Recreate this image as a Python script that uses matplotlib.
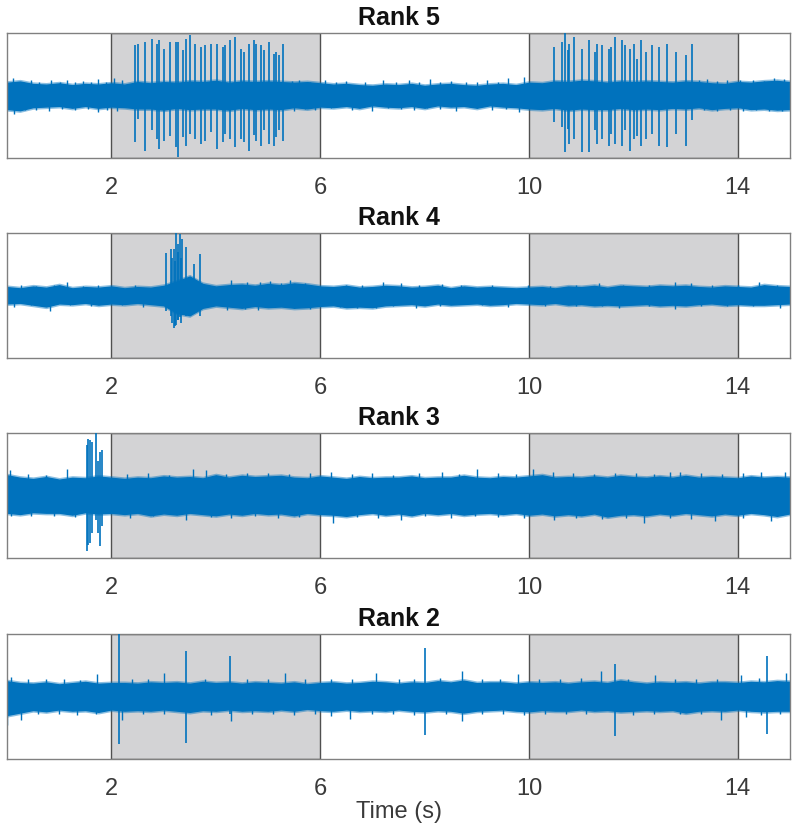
import matplotlib
matplotlib.use("Agg")
import matplotlib.pyplot as plt
import numpy as np

plt.rcParams['font.family'] = ['Liberation Sans', 'DejaVu Sans']

TRACE = '#0072BD'

# envelope of the noise band, sampled every 0.25 s from 0 to 15 s (axis units, ylim = -1..1)
t_env = np.arange(61) * 0.25

rank5_hi = [0.20, 0.22, 0.18, 0.17, 0.19, 0.16, 0.18, 0.17, 0.19, 0.17,
            0.21, 0.19, 0.21, 0.20, 0.22, 0.21, 0.23, 0.20, 0.22, 0.21,
            0.22, 0.21, 0.20, 0.21, 0.19, 0.17, 0.18, 0.16, 0.15, 0.17,
            0.16, 0.18, 0.15, 0.17, 0.18, 0.16, 0.15, 0.17, 0.18, 0.16,
            0.20, 0.19, 0.22, 0.21, 0.23, 0.22, 0.20, 0.22, 0.21, 0.22,
            0.21, 0.20, 0.22, 0.21, 0.19, 0.18, 0.21, 0.20, 0.22, 0.23, 0.21]
rank5_lo = [-0.22, -0.24, -0.19, -0.18, -0.17, -0.20, -0.17, -0.20, -0.18, -0.19,
            -0.21, -0.21, -0.23, -0.20, -0.22, -0.21, -0.21, -0.23, -0.20, -0.22,
            -0.21, -0.22, -0.19, -0.21, -0.18, -0.19, -0.17, -0.20, -0.16, -0.18,
            -0.19, -0.17, -0.20, -0.16, -0.18, -0.17, -0.20, -0.16, -0.18, -0.19,
            -0.21, -0.22, -0.20, -0.23, -0.21, -0.22, -0.22, -0.20, -0.22, -0.21,
            -0.22, -0.20, -0.21, -0.19, -0.22, -0.20, -0.19, -0.22, -0.21, -0.23, -0.22]

rank4_hi = [0.13, 0.11, 0.14, 0.12, 0.16, 0.11, 0.13, 0.12, 0.14, 0.11,
            0.13, 0.12, 0.15, 0.22, 0.30, 0.18, 0.14, 0.16, 0.17, 0.15,
            0.18, 0.16, 0.19, 0.17, 0.14, 0.13, 0.15, 0.12, 0.13, 0.15,
            0.14, 0.12, 0.13, 0.15, 0.11, 0.14, 0.12, 0.13, 0.12, 0.11,
            0.12, 0.13, 0.11, 0.14, 0.13, 0.15, 0.12, 0.15, 0.14, 0.13,
            0.15, 0.14, 0.15, 0.13, 0.12, 0.14, 0.13, 0.12, 0.16, 0.14, 0.13]
rank4_lo = [-0.13, -0.12, -0.15, -0.18, -0.13, -0.14, -0.12, -0.15, -0.13, -0.14,
            -0.12, -0.14, -0.16, -0.28, -0.32, -0.20, -0.16, -0.18, -0.20, -0.17,
            -0.19, -0.18, -0.20, -0.19, -0.17, -0.16, -0.19, -0.18, -0.19, -0.16,
            -0.15, -0.14, -0.16, -0.13, -0.15, -0.14, -0.13, -0.15, -0.14, -0.12,
            -0.13, -0.14, -0.12, -0.15, -0.14, -0.16, -0.15, -0.16, -0.15, -0.14,
            -0.16, -0.15, -0.16, -0.14, -0.13, -0.15, -0.14, -0.15, -0.15, -0.14, -0.13]

rank3_hi = [0.32, 0.28, 0.26, 0.29, 0.25, 0.28, 0.27, 0.30, 0.28, 0.26,
            0.28, 0.27, 0.30, 0.28, 0.29, 0.27, 0.32, 0.28, 0.31, 0.29,
            0.30, 0.31, 0.28, 0.27, 0.30, 0.28, 0.26, 0.29, 0.27, 0.28,
            0.28, 0.30, 0.27, 0.28, 0.28, 0.31, 0.28, 0.27, 0.29, 0.28,
            0.30, 0.32, 0.28, 0.29, 0.28, 0.30, 0.28, 0.31, 0.29, 0.28,
            0.30, 0.28, 0.31, 0.28, 0.29, 0.28, 0.27, 0.30, 0.28, 0.29, 0.28]
rank3_lo = [-0.28, -0.30, -0.27, -0.28, -0.28, -0.31, -0.27, -0.29, -0.28, -0.30,
            -0.28, -0.32, -0.29, -0.31, -0.28, -0.30, -0.32, -0.29, -0.31, -0.28,
            -0.30, -0.29, -0.32, -0.28, -0.30, -0.31, -0.33, -0.30, -0.28, -0.31,
            -0.29, -0.32, -0.28, -0.30, -0.28, -0.31, -0.29, -0.28, -0.30, -0.28,
            -0.31, -0.29, -0.32, -0.30, -0.32, -0.29, -0.34, -0.31, -0.30, -0.32,
            -0.29, -0.31, -0.28, -0.30, -0.32, -0.29, -0.31, -0.28, -0.30, -0.33, -0.29]

rank2_hi = [0.24, 0.21, 0.20, 0.22, 0.19, 0.21, 0.23, 0.20, 0.21, 0.21,
            0.20, 0.22, 0.21, 0.22, 0.20, 0.23, 0.21, 0.22, 0.20, 0.22,
            0.21, 0.20, 0.22, 0.19, 0.21, 0.22, 0.20, 0.21, 0.23, 0.22,
            0.20, 0.22, 0.21, 0.24, 0.22, 0.25, 0.21, 0.22, 0.22, 0.20,
            0.22, 0.21, 0.22, 0.20, 0.22, 0.23, 0.21, 0.25, 0.22, 0.20,
            0.22, 0.21, 0.22, 0.20, 0.22, 0.22, 0.21, 0.23, 0.22, 0.24, 0.23]
rank2_lo = [-0.30, -0.26, -0.22, -0.24, -0.21, -0.23, -0.22, -0.25, -0.21, -0.23,
            -0.22, -0.23, -0.21, -0.23, -0.25, -0.22, -0.23, -0.21, -0.23, -0.22,
            -0.23, -0.21, -0.23, -0.20, -0.22, -0.23, -0.21, -0.23, -0.22, -0.23,
            -0.21, -0.23, -0.24, -0.22, -0.23, -0.26, -0.23, -0.22, -0.21, -0.23,
            -0.24, -0.22, -0.23, -0.23, -0.21, -0.23, -0.22, -0.24, -0.23, -0.22,
            -0.23, -0.22, -0.26, -0.23, -0.22, -0.23, -0.21, -0.23, -0.24, -0.23, -0.23]

# noise peaks sticking out of the band: time (s), value
rank5_up_t = [0.12, 0.30, 0.46, 0.62, 0.85, 1.02, 1.15, 1.30, 1.45, 1.60, 1.75, 1.90,
              2.04, 2.20, 5.45, 5.60, 5.80, 6.10, 6.30, 6.50, 6.85, 7.20, 7.45, 7.70,
              7.90, 8.10, 8.30, 8.50, 8.80, 9.00, 9.20, 9.40, 9.60, 9.91, 13.25, 13.40,
              13.60, 13.80, 14.05, 14.30, 14.50, 14.70, 14.88]
rank5_up_v = [0.28, 0.22, 0.24, 0.21, 0.24, 0.22, 0.25, 0.21, 0.23, 0.22, 0.26, 0.22,
              0.27, 0.25, 0.23, 0.25, 0.21, 0.24, 0.21, 0.23, 0.21, 0.25, 0.21, 0.24,
              0.21, 0.26, 0.21, 0.23, 0.22, 0.21, 0.25, 0.22, 0.27, 0.29, 0.24, 0.26,
              0.23, 0.24, 0.25, 0.25, 0.23, 0.27, 0.26]
rank5_dn_t = [0.14, 0.35, 0.55, 0.80, 1.05, 1.30, 1.55, 1.74, 1.92, 2.10, 5.50, 5.70,
              5.90, 6.20, 6.60, 7.00, 7.30, 7.55, 7.80, 8.05, 8.30, 8.60, 9.00, 9.30,
              9.55, 9.80, 13.35, 13.60, 13.85, 14.10, 14.35, 14.60, 14.85]
rank5_dn_v = [-0.30, -0.23, -0.24, -0.25, -0.22, -0.23, -0.22, -0.27, -0.23, -0.26,
              -0.25, -0.22, -0.24, -0.21, -0.23, -0.25, -0.21, -0.22, -0.24, -0.21,
              -0.22, -0.26, -0.21, -0.24, -0.22, -0.27, -0.24, -0.25, -0.23, -0.26,
              -0.24, -0.25, -0.26]

rank4_up_t = [0.27, 0.55, 0.90, 1.15, 1.45, 1.75, 2.45, 4.30, 4.60, 4.85, 5.03, 5.25,
              5.42, 5.70, 6.49, 6.80, 7.21, 7.55, 7.90, 8.33, 8.70, 9.30, 9.98, 10.40,
              10.90, 11.34, 11.80, 12.30, 12.80, 13.10, 13.50, 14.00, 14.40, 14.75]
rank4_up_v = [0.16, 0.15, 0.16, 0.21, 0.15, 0.16, 0.17, 0.24, 0.21, 0.22, 0.23, 0.20,
              0.24, 0.20, 0.16, 0.17, 0.21, 0.19, 0.16, 0.18, 0.16, 0.16, 0.16, 0.15,
              0.16, 0.19, 0.17, 0.17, 0.21, 0.19, 0.17, 0.17, 0.21, 0.17]
rank4_dn_t = [0.13, 0.45, 0.83, 1.20, 1.60, 2.20, 2.60, 4.22, 4.55, 4.80, 5.13, 5.50,
              5.80, 6.37, 6.70, 7.07, 7.40, 7.84, 8.30, 9.10, 9.60, 10.30, 10.90, 11.40,
              11.73, 12.30, 12.80, 13.30, 13.80, 14.30, 14.80]
rank4_dn_v = [-0.19, -0.16, -0.26, -0.16, -0.17, -0.16, -0.19, -0.24, -0.22, -0.23,
              -0.19, -0.21, -0.22, -0.19, -0.20, -0.21, -0.18, -0.20, -0.17, -0.16,
              -0.19, -0.17, -0.18, -0.17, -0.20, -0.18, -0.22, -0.18, -0.17, -0.18, -0.20]

rank3_up_t = [0.06, 0.40, 0.75, 1.15, 2.30, 2.70, 3.10, 3.57, 3.82, 4.20, 4.60, 5.00,
              5.40, 5.80, 6.20, 6.60, 7.00, 7.40, 7.90, 8.33, 8.65, 9.00, 9.40, 9.75,
              10.08, 10.45, 10.85, 11.25, 11.65, 12.05, 12.40, 12.70, 12.90, 13.30,
              13.70, 14.10, 14.45, 14.90]
rank3_up_v = [0.40, 0.34, 0.33, 0.42, 0.34, 0.35, 0.33, 0.42, 0.41, 0.34, 0.36, 0.35,
              0.34, 0.36, 0.37, 0.34, 0.35, 0.33, 0.36, 0.38, 0.34, 0.42, 0.35, 0.34,
              0.42, 0.38, 0.36, 0.34, 0.36, 0.35, 0.34, 0.38, 0.38, 0.35, 0.34, 0.36,
              0.38, 0.37]
rank3_dn_t = [0.08, 0.45, 0.90, 1.30, 2.36, 2.80, 3.43, 3.90, 4.30, 4.75, 5.20, 5.60,
              6.24, 6.70, 7.10, 7.55, 8.00, 8.50, 8.96, 9.40, 9.90, 10.47, 10.90,
              11.40, 11.85, 12.21, 12.70, 13.10, 13.57, 14.10, 14.64]
rank3_dn_v = [-0.33, -0.34, -0.33, -0.35, -0.37, -0.34, -0.39, -0.35, -0.36, -0.34,
              -0.37, -0.35, -0.44, -0.35, -0.36, -0.39, -0.34, -0.36, -0.34, -0.35,
              -0.36, -0.40, -0.37, -0.38, -0.36, -0.44, -0.37, -0.38, -0.41, -0.37, -0.41]

rank2_up_t = [0.08, 0.40, 0.75, 1.10, 1.40, 1.73, 2.40, 2.70, 3.00, 3.80, 4.60, 5.00,
              5.32, 5.70, 6.20, 6.60, 7.07, 7.50, 7.80, 8.30, 8.72, 9.10, 9.45, 9.79,
              10.20, 10.60, 11.00, 11.38, 11.90, 12.41, 12.80, 13.20, 13.60, 14.06,
              14.40, 14.93]
rank2_up_v = [0.31, 0.27, 0.28, 0.27, 0.26, 0.36, 0.27, 0.28, 0.38, 0.27, 0.28, 0.28,
              0.37, 0.27, 0.27, 0.28, 0.37, 0.27, 0.28, 0.30, 0.41, 0.28, 0.27, 0.35,
              0.28, 0.27, 0.29, 0.41, 0.28, 0.34, 0.27, 0.28, 0.27, 0.34, 0.30, 0.37]
rank2_dn_t = [0.00, 0.27, 0.60, 1.00, 1.35, 1.70, 2.21, 2.60, 3.00, 3.90, 4.30, 4.70,
              5.10, 5.50, 5.90, 6.20, 6.58, 7.00, 7.40, 7.80, 8.40, 8.72, 9.10, 9.50,
              9.90, 10.30, 10.70, 11.10, 12.00, 12.40, 12.90, 13.30, 13.67, 14.16,
              14.45, 14.80]
rank2_dn_v = [-0.46, -0.38, -0.29, -0.28, -0.30, -0.28, -0.38, -0.29, -0.28, -0.30,
              -0.39, -0.29, -0.28, -0.30, -0.29, -0.31, -0.37, -0.28, -0.29, -0.30,
              -0.28, -0.39, -0.29, -0.28, -0.30, -0.28, -0.29, -0.28, -0.30, -0.28,
              -0.29, -0.28, -0.38, -0.34, -0.30, -0.29]

# large excursions: time (s), top, bottom
rank5_spk_t = [2.455, 2.50, 2.646, 2.786, 2.881, 2.913, 3.015, 3.123, 3.231, 3.270,
               3.371, 3.422, 3.499, 3.601, 3.709, 3.785, 3.913, 4.021, 4.129, 4.167,
               4.269, 4.364, 4.485, 4.536, 4.632, 4.727, 4.765, 4.874, 4.925, 5.013,
               5.109, 5.160, 5.204, 5.287,
               10.474, 10.627, 10.691, 10.741, 10.773, 10.869, 11.009, 11.155, 11.270, 11.302,
               11.390, 11.537, 11.569, 11.652, 11.772, 11.836, 11.925, 12.014, 12.078, 12.142,
               12.237, 12.364, 12.492, 12.651, 12.810, 13.001, 13.128]
rank5_spk_hi = [0.81, 0.83, 0.86, 0.91, 0.83, 0.89, 0.75, 0.86, 0.86, 0.86,
                0.73, 0.91, 0.97, 0.83, 0.78, 0.81, 0.83, 0.83, 0.78, 0.81,
                0.89, 0.94, 0.75, 0.70, 0.83, 0.89, 0.83, 0.81, 0.73, 0.86,
                0.67, 0.70, 0.65, 0.83,
                0.78, 0.86, 1.00, 0.73, 0.83, 0.93, 0.75, 0.89, 0.70, 0.83,
                0.81, 0.75, 0.78, 0.94, 0.89, 0.81, 0.75, 0.83, 0.59, 0.89,
                0.70, 0.81, 0.78, 0.83, 0.70, 0.65, 0.83]
rank5_spk_lo = [-0.75, -0.38, -0.89, -0.56, -0.70, -0.86, -0.73, -0.65, -0.83, -0.99,
                -0.67, -0.81, -0.62, -0.70, -0.78, -0.73, -0.59, -0.86, -0.75, -0.62,
                -0.70, -0.83, -0.70, -0.75, -0.89, -0.64, -0.73, -0.81, -0.56, -0.78,
                -0.81, -0.67, -0.56, -0.73,
                -0.43, -0.51, -0.91, -0.54, -0.78, -0.70, -0.91, -0.91, -0.56, -0.78,
                -0.70, -0.81, -0.62, -0.78, -0.81, -0.56, -0.89, -0.70, -0.65, -0.81,
                -0.70, -0.62, -0.81, -0.83, -0.62, -0.81, -0.40]

rank4_spk_t = [3.053, 3.149, 3.17, 3.200, 3.22, 3.244, 3.27, 3.282, 3.308, 3.33,
               3.359, 3.429, 3.581, 3.690]
rank4_spk_hi = [0.68, 0.74, 0.60, 0.74, 0.55, 1.00, 0.70, 0.83, 0.99, 0.60,
                0.91, 0.78, 0.51, 0.66]
rank4_spk_lo = [-0.26, -0.34, -0.45, -0.53, -0.50, -0.47, -0.40, -0.39, -0.35, -0.45,
                -0.31, -0.34, -0.20, -0.34]

rank3_spk_t = [1.53, 1.56, 1.59, 1.62, 1.70, 1.74, 1.79, 1.82]
rank3_spk_hi = [0.81, 0.91, 0.89, 0.85, 1.00, 0.55, 0.70, 0.73]
rank3_spk_lo = [-0.89, -0.80, -0.76, -0.60, -0.40, -0.60, -0.81, -0.50]

rank2_spk_t = [2.136, 3.437, 4.28, 8.00, 11.64, 14.55]
rank2_spk_hi = [1.00, 0.73, 0.64, 0.77, 0.52, 0.65]
rank2_spk_lo = [-0.77, -0.75, -0.28, -0.62, -0.64, -0.61]

titles = ['Rank 5', 'Rank 4', 'Rank 3', 'Rank 2']
panels = [
    (rank5_hi, rank5_lo, rank5_up_t, rank5_up_v, rank5_dn_t, rank5_dn_v,
     rank5_spk_t, rank5_spk_hi, rank5_spk_lo),
    (rank4_hi, rank4_lo, rank4_up_t, rank4_up_v, rank4_dn_t, rank4_dn_v,
     rank4_spk_t, rank4_spk_hi, rank4_spk_lo),
    (rank3_hi, rank3_lo, rank3_up_t, rank3_up_v, rank3_dn_t, rank3_dn_v,
     rank3_spk_t, rank3_spk_hi, rank3_spk_lo),
    (rank2_hi, rank2_lo, rank2_up_t, rank2_up_v, rank2_dn_t, rank2_dn_v,
     rank2_spk_t, rank2_spk_hi, rank2_spk_lo),
]
shaded = [(2, 6), (10, 14)]
xticks = [2, 6, 10, 14]

fig = plt.figure(figsize=(7.98, 8.33), dpi=100)
tops = [0.9604, 0.7203, 0.4802, 0.2389]
height = 0.1495

for i, (title, p) in enumerate(zip(titles, panels)):
    hi, lo, ut, uv, dt, dv, st, sh, sl = p
    hi = np.array(hi)
    lo = np.array(lo)
    ax = fig.add_axes([0.0088, tops[i] - height, 0.9812, height])
    for a, b in shaded:
        ax.axvspan(a, b, facecolor='#d3d3d5', edgecolor='#505050', linewidth=1.0, zorder=0)
    # soft fringe so the band edge looks fuzzy like a dense trace
    ax.fill_between(t_env, lo - 0.035, hi + 0.035, color=TRACE, alpha=0.45, linewidth=0, zorder=1)
    ax.fill_between(t_env, lo, hi, color=TRACE, linewidth=1.0, edgecolor=TRACE, zorder=2)
    ax.vlines(ut, 0, uv, color=TRACE, linewidth=1.0, zorder=2)
    ax.vlines(dt, dv, 0, color=TRACE, linewidth=1.0, zorder=2)
    ax.vlines(st, sl, sh, color=TRACE, linewidth=1.2, zorder=3)
    ax.set_xlim(0, 15)
    ax.set_ylim(-1, 1)
    ax.set_yticks([])
    ax.set_xticks(xticks)
    ax.set_xticklabels([str(x) for x in xticks])
    ax.tick_params(axis='x', length=0, pad=14, labelsize=17, labelcolor='#3a3a3a')
    for s in ax.spines.values():
        s.set_color('#808080')
        s.set_linewidth(1.0)
    ax.set_title(title, fontsize=18, fontweight='bold', pad=6, color='#111111')

fig.text(0.5, 1 - 812 / 833, 'Time (s)', ha='center', va='center', fontsize=17, color='#3a3a3a')

fig.savefig('out.png', dpi=100)
